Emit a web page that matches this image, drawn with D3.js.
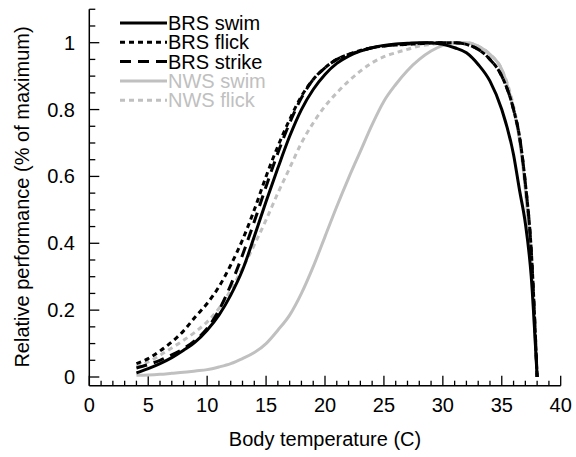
<!DOCTYPE html>
<html><head><meta charset="utf-8">
<script src="https://cdn.jsdelivr.net/npm/d3@7"></script>
<style>body{margin:0;background:#fff}svg{display:block}text{font-family:"Liberation Sans",Arial,sans-serif}</style>
</head><body><svg id="c" width="576" height="457"></svg>
<script>
const temps = [4,5,6,7,8,9,10,11,12,13,14,15,16,17,18,19,20,21,22,23,24,25,26,27,28,29,30,31,32,33,34,35,36,36.5,37,37.5,38];
const brsSwim   = [0.012,0.025,0.04,0.058,0.08,0.105,0.14,0.185,0.245,0.32,0.42,0.525,0.625,0.72,0.8,0.86,0.905,0.938,0.96,0.975,0.985,0.992,0.996,0.998,1.0,1.0,0.995,0.985,0.97,0.935,0.885,0.80,0.665,0.56,0.46,0.30,0.0];
const brsFlick  = [0.04,0.055,0.078,0.105,0.138,0.18,0.22,0.27,0.335,0.41,0.5,0.6,0.69,0.77,0.84,0.89,0.925,0.95,0.965,0.977,0.985,0.99,0.993,0.995,0.997,0.999,1.0,1.0,0.995,0.98,0.95,0.9,0.8,0.72,0.58,0.38,0.0];
const brsStrike = [0.027,0.037,0.05,0.066,0.085,0.11,0.145,0.2,0.275,0.365,0.465,0.57,0.67,0.76,0.835,0.89,0.925,0.95,0.965,0.975,0.985,0.99,0.993,0.996,0.998,1.0,1.0,1.0,0.995,0.98,0.95,0.9,0.8,0.72,0.58,0.38,0.0];
const nwsSwim   = [0.005,0.006,0.008,0.011,0.014,0.018,0.022,0.03,0.04,0.055,0.073,0.1,0.14,0.185,0.25,0.33,0.42,0.51,0.595,0.675,0.755,0.825,0.875,0.917,0.95,0.975,0.992,1.0,1.0,0.99,0.965,0.92,0.8,0.71,0.56,0.34,0.0];
const nwsFlick  = [0.03,0.045,0.065,0.087,0.11,0.135,0.165,0.205,0.26,0.325,0.395,0.47,0.55,0.625,0.7,0.76,0.81,0.85,0.885,0.915,0.94,0.958,0.97,0.98,0.99,0.995,0.999,1.0,1.0,0.99,0.965,0.92,0.81,0.72,0.57,0.35,0.0];
const seriesNames = ["BRS swim","BRS flick","BRS strike","NWS swim","NWS flick"];
const seriesValues = [brsSwim,brsFlick,brsStrike,nwsSwim,nwsFlick];
const seriesColors = ["#000","#000","#000","#c0c0c0","#c0c0c0"];
const seriesDash = [null,"5,4","11,7",null,"5,4"];
const xTicks = [0,5,10,15,20,25,30,35,40];
const yTickLabels = ["0","0.2","0.4","0.6","0.8","1"];

const svg = d3.select("#c");
const x = d3.scaleLinear().domain([0,40]).range([89.3,560.7]);
const y = d3.scaleLinear().domain([0,1]).range([377,42.7]);
const yBottom = 385.7, yTop = y(1.1);

const g = svg.append("g");
g.append("line").attr("x1",x(0)).attr("x2",x(40)).attr("y1",yBottom).attr("y2",yBottom).attr("stroke","#000").attr("stroke-width",1.5);
g.append("line").attr("x1",x(0)).attr("x2",x(0)).attr("y1",yBottom).attr("y2",yTop).attr("stroke","#000").attr("stroke-width",1.5);
d3.range(0,41,1).forEach(t=>{
  const major = t%5===0;
  g.append("line").attr("x1",x(t)).attr("x2",x(t)).attr("y1",yBottom).attr("y2",yBottom-(major?10:5)).attr("stroke","#000").attr("stroke-width",1.3);
});
xTicks.forEach(t=>{
  g.append("text").attr("x",x(t)).attr("y",412).attr("text-anchor","middle").attr("font-size",20).text(t);
});
d3.range(0,23,1).forEach(i=>{
  const v=i*0.05, major = i%4===0;
  g.append("line").attr("x1",x(0)).attr("x2",x(0)+(major?10:6)).attr("y1",y(v)).attr("y2",y(v)).attr("stroke","#000").attr("stroke-width",1.3);
});
yTickLabels.forEach(l=>{
  g.append("text").attr("x",75).attr("y",y(+l)+7).attr("text-anchor","end").attr("font-size",20).text(l);
});
svg.append("text").attr("x",325).attr("y",446).attr("text-anchor","middle").attr("font-size",20).text("Body temperature (C)");
svg.append("text").attr("transform","translate(29,197) rotate(-90)").attr("text-anchor","middle").attr("font-size",20).text("Relative performance (% of maximum)");

const line = d3.line().x((d,i)=>x(temps[i])).y(d=>y(d)).curve(d3.curveMonotoneX);
const order=[3,4,0,1,2];
order.forEach(k=>{
  svg.append("path").attr("d",line(seriesValues[k])).attr("fill","none").attr("stroke",seriesColors[k]).attr("stroke-width",3).attr("stroke-dasharray",seriesDash[k]);
});
seriesNames.forEach((n,k)=>{
  const ly = 23 + k*19.3;
  svg.append("line").attr("x1",120).attr("x2",167).attr("y1",ly).attr("y2",ly).attr("stroke",seriesColors[k]).attr("stroke-width",3).attr("stroke-dasharray",seriesDash[k]);
  svg.append("text").attr("x",168).attr("y",ly+7).attr("font-size",20).attr("fill",seriesColors[k]).text(n);
});
</script></body></html>
